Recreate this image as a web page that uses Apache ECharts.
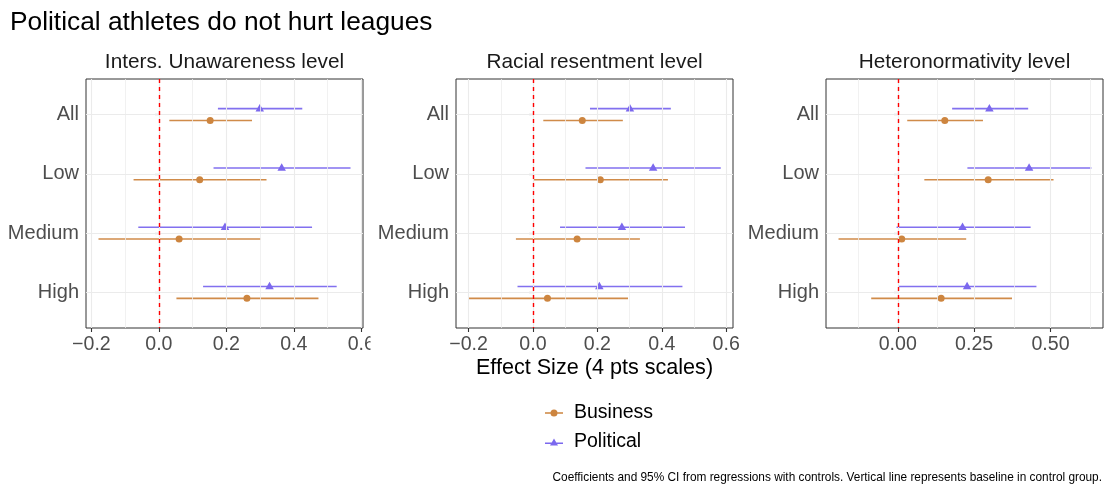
<!DOCTYPE html>
<html>
<head>
<meta charset="utf-8">
<script src="https://cdn.jsdelivr.net/npm/echarts@6/dist/echarts.min.js"></script>
<style>
  html, body { margin: 0; padding: 0; background: #ffffff; }
  #chart { width: 1106px; height: 487px; }
</style>
</head>
<body>
<div id="chart"></div>
<script>
// Rows of each panel (top to bottom) and the panel headings
const categories = ['All', 'Low', 'Medium', 'High'];
const panelTitles = ['Inters. Unawareness level', 'Racial resentment level', 'Heteronormativity level'];

// Business treatment: point estimate and 95% CI per panel, per row
const businessEst  = [[0.152, 0.121, 0.060, 0.261], [0.153, 0.209, 0.137, 0.045], [0.154, 0.296, 0.013, 0.142]];
const businessLow  = [[0.031, -0.075, -0.179, 0.052], [0.032, 0.003, -0.053, -0.199], [0.031, 0.087, -0.194, -0.087]];
const businessHigh = [[0.276, 0.319, 0.302, 0.473], [0.279, 0.419, 0.332, 0.295], [0.279, 0.510, 0.224, 0.374]];

// Political treatment: point estimate and 95% CI per panel, per row
const politicalEst  = [[0.299, 0.364, 0.196, 0.328], [0.301, 0.373, 0.276, 0.206], [0.300, 0.430, 0.212, 0.227]];
const politicalLow  = [[0.175, 0.162, -0.061, 0.131], [0.177, 0.163, 0.084, -0.048], [0.178, 0.228, -0.004, 0.002]];
const politicalHigh = [[0.425, 0.568, 0.454, 0.527], [0.428, 0.583, 0.472, 0.464], [0.427, 0.634, 0.435, 0.454]];

// Horizontal-axis ticks, labels and minor grid positions per panel
const xTickValues  = [[-0.2, 0, 0.2, 0.4, 0.6], [-0.2, 0, 0.2, 0.4, 0.6], [0, 0.25, 0.5]];
const xTickLabels  = [['\u22120.2', '0.0', '0.2', '0.4', '0.6'], ['\u22120.2', '0.0', '0.2', '0.4', '0.6'], ['0.00', '0.25', '0.50']];
const xMinorValues = [[-0.1, 0.1, 0.3, 0.5], [-0.1, 0.1, 0.3, 0.5], [-0.125, 0.125, 0.375, 0.625]];
const baseline = 0;

// ---- layout ----
const FONT = 'Liberation Sans, Arial, Helvetica, sans-serif';
const COL_BUSINESS = '#CD853F';
const COL_POLITICAL = '#7B68EE';
const GRID_LEFT = [86, 456, 826];
const GRID_W = 277;
const GRID_TOP = 79;
const GRID_H = 249;
const X_RANGE = [[-0.216, 0.605], [-0.239, 0.621], [-0.235, 0.672]];
const Y_MIN = 0.4, Y_MAX = 4.6;   // rows sit at 1..4 with 0.6 padding
const DODGE = 0.1;               // vertical offset between the two treatments

const rowPositions = categories.map((_, i) => i + 1);

function nearestLabel(values, labels, v) {
  let best = 0;
  for (let i = 1; i < values.length; i++) {
    if (Math.abs(values[i] - v) < Math.abs(values[best] - v)) best = i;
  }
  return labels[best];
}

function errorBarRenderer(color) {
  return function (params, api) {
    const a = api.coord([api.value(0), api.value(2)]);
    const b = api.coord([api.value(1), api.value(2)]);
    return {
      type: 'line',
      shape: { x1: a[0], y1: a[1], x2: b[0], y2: b[1] },
      style: { stroke: color, lineWidth: 1.6, opacity: 0.95 }
    };
  };
}

const grids = [], xAxes = [], yAxes = [], series = [];

for (let p = 0; p < 3; p++) {
  grids.push({
    left: GRID_LEFT[p], top: GRID_TOP, width: GRID_W, height: GRID_H,
    show: true, backgroundColor: '#ffffff', borderColor: '#333333', borderWidth: 1
  });
  xAxes.push({
    type: 'value', gridIndex: p, min: X_RANGE[p][0], max: X_RANGE[p][1],
    axisLine: { show: false },
    splitLine: { show: false },
    axisTick: { show: true, customValues: xTickValues[p], length: 4, lineStyle: { color: '#333333', width: 1.1 } },
    axisLabel: {
      show: true, customValues: xTickValues[p], margin: 5, hideOverlap: false,
      color: '#4D4D4D', fontSize: 19.6, fontFamily: FONT, padding: [2, 0, 0, 0],
      formatter: (v) => nearestLabel(xTickValues[p], xTickLabels[p], v)
    }
  });
  yAxes.push({
    type: 'value', gridIndex: p, min: Y_MIN, max: Y_MAX, inverse: true,
    axisLine: { show: false },
    splitLine: { show: false },
    axisTick: { show: true, customValues: rowPositions, length: 4, lineStyle: { color: '#333333', width: 1.1 } },
    axisLabel: {
      show: true, customValues: rowPositions, margin: 7, hideOverlap: false,
      color: '#4D4D4D', fontSize: 20, fontFamily: FONT, padding: [4, 0, 0, 0],
      formatter: (v) => categories[Math.round(v) - 1]
    }
  });

  // grid lines and the baseline reference
  series.push({
    type: 'line', xAxisIndex: p, yAxisIndex: p, data: [], z: 1, silent: true,
    markLine: {
      silent: true, symbol: ['none', 'none'], label: { show: false }, animation: false,
      data: [
        ...xMinorValues[p].map(v => ({ xAxis: v, lineStyle: { color: '#EEEEEE', width: 0.8, type: 'solid' } })),
        ...xTickValues[p].map(v => ({ xAxis: v, lineStyle: { color: '#EBEBEB', width: 1.1, type: 'solid' } })),
        ...rowPositions.map(v => ({ yAxis: v, lineStyle: { color: '#EBEBEB', width: 1.1, type: 'solid' } }))
      ]
    }
  });
  series.push({
    type: 'line', xAxisIndex: p, yAxisIndex: p, data: [], z: 2, silent: true,
    markLine: {
      silent: true, symbol: ['none', 'none'], label: { show: false }, animation: false,
      lineStyle: { color: '#FF0000', width: 1.4, type: [4, 4] },
      data: [{ xAxis: baseline }]
    }
  });

  // confidence intervals
  series.push({
    name: 'Business', type: 'custom', xAxisIndex: p, yAxisIndex: p, z: 3,
    itemStyle: { color: COL_BUSINESS },
    renderItem: errorBarRenderer(COL_BUSINESS),
    encode: { x: [0, 1], y: 2 },
    data: categories.map((_, i) => [businessLow[p][i], businessHigh[p][i], rowPositions[i] + DODGE])
  });
  series.push({
    name: 'Political', type: 'custom', xAxisIndex: p, yAxisIndex: p, z: 3,
    itemStyle: { color: COL_POLITICAL },
    renderItem: errorBarRenderer(COL_POLITICAL),
    encode: { x: [0, 1], y: 2 },
    data: categories.map((_, i) => [politicalLow[p][i], politicalHigh[p][i], rowPositions[i] - DODGE])
  });

  // point estimates
  series.push({
    name: 'Business', type: 'scatter', xAxisIndex: p, yAxisIndex: p, z: 4,
    symbol: 'circle', symbolSize: 7,
    itemStyle: { color: COL_BUSINESS, opacity: 1 },
    data: categories.map((_, i) => [businessEst[p][i], rowPositions[i] + DODGE])
  });
  series.push({
    name: 'Political', type: 'scatter', xAxisIndex: p, yAxisIndex: p, z: 4,
    symbol: 'triangle', symbolSize: [8.5, 7.5], symbolOffset: [0, -1],
    itemStyle: { color: COL_POLITICAL, opacity: 1 },
    data: categories.map((_, i) => [politicalEst[p][i], rowPositions[i] - DODGE])
  });
}

// legend keys: a short line with the point marker on it
const ICON_BUSINESS = 'path://M0,2.75L18,2.75L18,4.25L0,4.25Z M12.5,3.5A3.5,3.5,0,1,1,5.5,3.5A3.5,3.5,0,1,1,12.5,3.5Z';
const ICON_POLITICAL = 'path://M0,4.1L18,4.1L18,5.6L0,5.6Z M9,0L13,7L5,7Z';

const graphics = [
  { type: 'text', x: 10, y: 22.8, z: 10,
    style: { text: 'Political athletes do not hurt leagues', font: '26.3px ' + FONT, fill: '#000000', textVerticalAlign: 'middle' } },
  ...panelTitles.map((t, p) => ({
    type: 'text', x: GRID_LEFT[p] + GRID_W / 2, y: 62, z: 10,
    style: { text: t, font: '20.8px ' + FONT, fill: '#1A1A1A', textAlign: 'center', textVerticalAlign: 'middle' }
  })),
  { type: 'text', x: GRID_LEFT[1] + GRID_W / 2, y: 368, z: 10,
    style: { text: 'Effect Size (4 pts scales)', font: '21.6px ' + FONT, fill: '#000000', textAlign: 'center', textVerticalAlign: 'middle' } },
  { type: 'text', x: 1102, y: 478, z: 10,
    style: { text: 'Coefficients and 95% CI from regressions with controls. Vertical line represents baseline in control group.',
             font: '11.85px ' + FONT, fill: '#000000', textAlign: 'right', textVerticalAlign: 'middle' } },
  // the first panel's viewport ends here, cutting its last tick label
  { type: 'rect', shape: { x: 370.5, y: 331, width: 6.5, height: 30 }, z: 100, silent: true,
    style: { fill: '#ffffff' } }
];

const chart = echarts.init(document.getElementById('chart'), null, { renderer: 'canvas' });
chart.setOption({
  animation: false,
  backgroundColor: '#ffffff',
  textStyle: { fontFamily: FONT },
  grid: grids,
  xAxis: xAxes,
  yAxis: yAxes,
  legend: {
    orient: 'vertical', left: 545, top: 403, itemGap: 9, padding: 0,
    itemWidth: 18, itemHeight: 7,
    textStyle: { fontSize: 19.5, fontFamily: FONT, color: '#000000', lineHeight: 20, padding: [0, 0, 0, 6] },
    data: [
      { name: 'Business', icon: ICON_BUSINESS },
      { name: 'Political', icon: ICON_POLITICAL }
    ]
  },
  graphic: graphics,
  series: series
});
</script>
</body>
</html>
